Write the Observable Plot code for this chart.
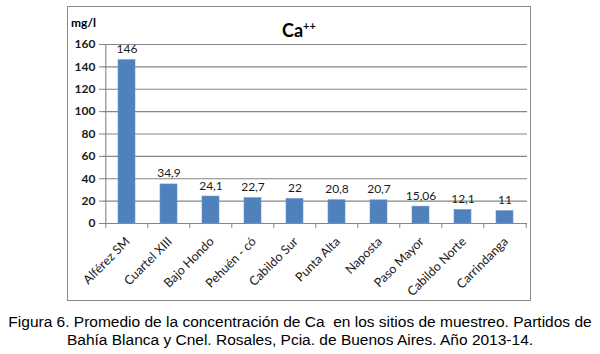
<!DOCTYPE html>
<html>
<head>
<meta charset="utf-8">
<script src="https://cdn.jsdelivr.net/npm/d3@7"></script>
<script src="https://cdn.jsdelivr.net/npm/@observablehq/plot@0.6"></script>
<style>
  html, body { margin: 0; padding: 0; background: #fff; }
  body { width: 600px; height: 354px; position: relative; overflow: hidden; font-family: Lato, sans-serif; }
  #chart { position: absolute; left: 0; top: 0; }
  #frame { position: absolute; left: 67px; top: 6px; width: 464px; height: 295px; border: 1.5px solid #8a8a8a; box-sizing: border-box; pointer-events: none; }
  #unit { position: absolute; left: 71px; top: 17px; font: bold 12px/12px Lato, sans-serif; color: #000; white-space: nowrap; }
  #title { position: absolute; left: 282px; top: 21px; font: bold 18px/18px Lato, sans-serif; color: #000; white-space: nowrap; }
  #title sup { font-size: 11px; position: relative; top: -4px; vertical-align: top; }
  #caption { position: absolute; left: 0; top: 313px; width: 600px; text-align: center; font: 15.5px/17.5px "Liberation Sans", Arial, sans-serif; color: #000; white-space: nowrap; }
</style>
</head>
<body>
<div id="chart"></div>
<div id="frame"></div>
<div id="unit">mg/l</div>
<div id="title">Ca<sup>++</sup></div>
<div id="caption">Figura 6. Promedio de la concentración de Ca&nbsp; en los sitios de muestreo. Partidos de<br>Bahía Blanca y Cnel. Rosales, Pcia. de Buenos Aires. Año 2013-14.</div>
<script>
const sites = ["Alférez SM", "Cuartel XIII", "Bajo Hondo", "Pehuén - có", "Cabildo Sur", "Punta Alta", "Naposta", "Paso Mayor", "Cabildo Norte", "Carrindanga"];
const values = [146, 34.9, 24.1, 22.7, 22, 20.8, 20.7, 15.06, 12.1, 11];
const yTicks = [0, 20, 40, 60, 80, 100, 120, 140, 160];

const data = sites.map((s, i) => ({site: s, value: values[i]}));
const fmt = v => String(v).replace(".", ",");

const W = 600, H = 310;
const mL = 103, mR = 73, mT = 44, mB = 87;
const step = (W - mL - mR) / sites.length;
const gray = "#858585";

const chart = Plot.plot({
  width: W,
  height: H,
  marginLeft: mL,
  marginRight: mR,
  marginTop: mT,
  marginBottom: mB,
  style: {fontFamily: "Lato, sans-serif", fontSize: "12px", background: "transparent", overflow: "visible"},
  x: {domain: sites, paddingInner: 0.6, paddingOuter: 0.3, axis: null},
  y: {domain: [0, 160], axis: null},
  marks: [
    Plot.gridY(yTicks, {stroke: gray, strokeOpacity: 1, strokeWidth: 1.1}),
    Plot.tickX([sites[0]], {x: d => d, dx: -step / 2, stroke: gray, strokeWidth: 1.1}),
    Plot.axisY({ticks: yTicks, tickSize: 4, tickPadding: 4, stroke: gray, fill: "#1a1a1a", fontWeight: "bold", fontSize: 12, label: null}),
    Plot.axisX({tickSize: 5, tickFormat: () => "", dx: -step / 2, stroke: gray, label: null}),
    Plot.axisX({ticks: [sites[sites.length - 1]], tickSize: 5, tickFormat: () => "", dx: step / 2, stroke: gray, label: null}),
    Plot.barY(data, {x: "site", y: "value", fill: "#4f81bd", stroke: "#6f96c8", strokeWidth: 0.6}),
    Plot.text(data, {x: "site", y: "value", text: d => fmt(d.value), dy: -7, lineAnchor: "bottom", fill: "#1a1a1a", fontSize: 12}),
    Plot.text(sites, {x: d => d, y: () => 0, text: d => d, rotate: -45, textAnchor: "end", lineAnchor: "middle", dx: 1, dy: 16, fill: "#1a1a1a", fontSize: 12.5})
  ]
});
document.getElementById("chart").appendChild(chart);
</script>
</body>
</html>
